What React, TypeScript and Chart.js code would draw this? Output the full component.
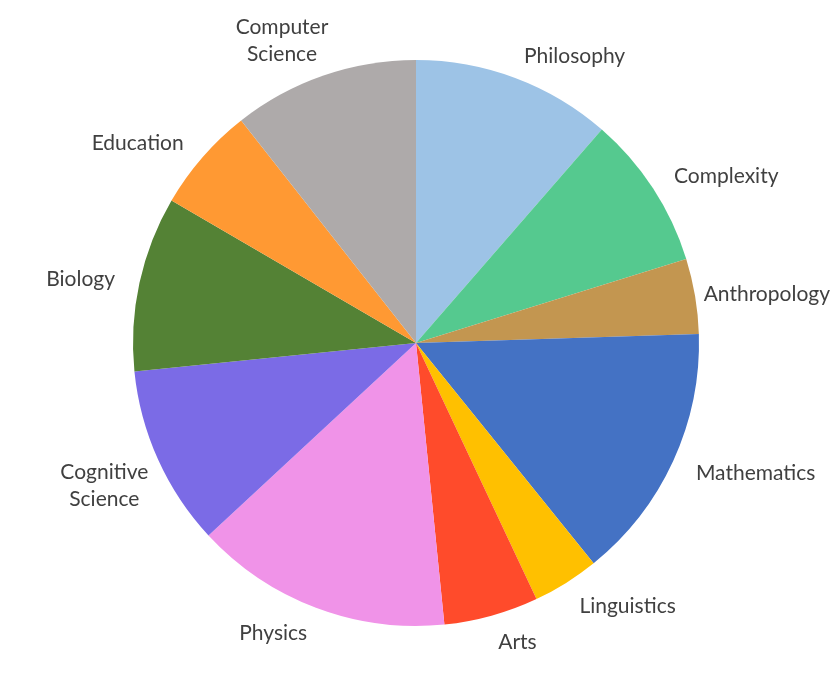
import React, { useEffect, useRef } from "react";
import { Chart, registerables } from "chart.js";

Chart.register(...registerables);

const categories = [
  "Philosophy",
  "Complexity",
  "Anthropology",
  "Mathematics",
  "Linguistics",
  "Arts",
  "Physics",
  "Cognitive\nScience",
  "Biology",
  "Education",
  "Computer\nScience",
];

const values = [11.4, 8.8, 4.3, 14.7, 3.8, 5.4, 14.7, 10.3, 10.0, 6.0, 10.6];

const colors = [
  "#9DC3E6",
  "#55C98F",
  "#C39650",
  "#4472C4",
  "#FFC000",
  "#FF4B2B",
  "#F093E8",
  "#7B6BE6",
  "#548235",
  "#FF9933",
  "#AEAAAA",
];

const FONT = "21px Lato";
const LABEL_COLOR = "#404040";

const outsideLabels = {
  id: "outsideLabels",
  afterDatasetsDraw(chart: any) {
    const ctx = chart.ctx;
    const meta = chart.getDatasetMeta(0);
    const labels = chart.data.labels as string[];
    ctx.save();
    ctx.font = FONT;
    ctx.fillStyle = LABEL_COLOR;
    ctx.textBaseline = "middle";
    const lineH = 27;
    meta.data.forEach((arc: any, i: number) => {
      const { x, y, startAngle, endAngle, outerRadius } = arc.getProps(
        ["x", "y", "startAngle", "endAngle", "outerRadius"],
        true
      );
      const mid = (startAngle + endAngle) / 2;
      const R = outerRadius + 25;
      const ax = x + R * Math.cos(mid);
      const ay = y + R * Math.sin(mid) + 2;
      const lines = String(labels[i]).split("\n");
      const widths = lines.map((l) => ctx.measureText(l).width);
      const w = Math.max(...widths);
      const right = Math.cos(mid) >= 0;
      let left = right ? ax : ax - w;
      if (lines.length > 1) left += right ? -13 : 13;
      left = Math.max(2, Math.min(left, chart.width - 2 - w));
      const down = Math.sin(mid) >= 0;
      lines.forEach((l, j) => {
        const k = down ? j : j - (lines.length - 1);
        const ly = ay + k * lineH;
        const lx = lines.length > 1 ? left + (w - widths[j]) / 2 : left;
        ctx.textAlign = "left";
        ctx.fillText(l, lx, ly);
      });
    });
    ctx.restore();
  },
};

export default function App() {
  const ref = useRef<HTMLCanvasElement>(null);
  useEffect(() => {
    document.body.style.margin = "0";
    const chart = new Chart(ref.current!, {
      type: "pie",
      data: {
        labels: categories,
        datasets: [
          {
            data: values,
            backgroundColor: colors,
            borderWidth: 0,
          },
        ],
      },
      options: {
        animation: false,
        responsive: false,
        layout: { padding: { top: 60, bottom: 56, left: 100, right: 100 } },
        plugins: {
          legend: { display: false },
          tooltip: { enabled: false },
        },
      },
      plugins: [outsideLabels],
    });
    return () => chart.destroy();
  }, []);
  return (
    <div style={{ width: 832, height: 682 }}>
      <canvas ref={ref} width={832} height={682} style={{ display: "block" }} />
    </div>
  );
}
